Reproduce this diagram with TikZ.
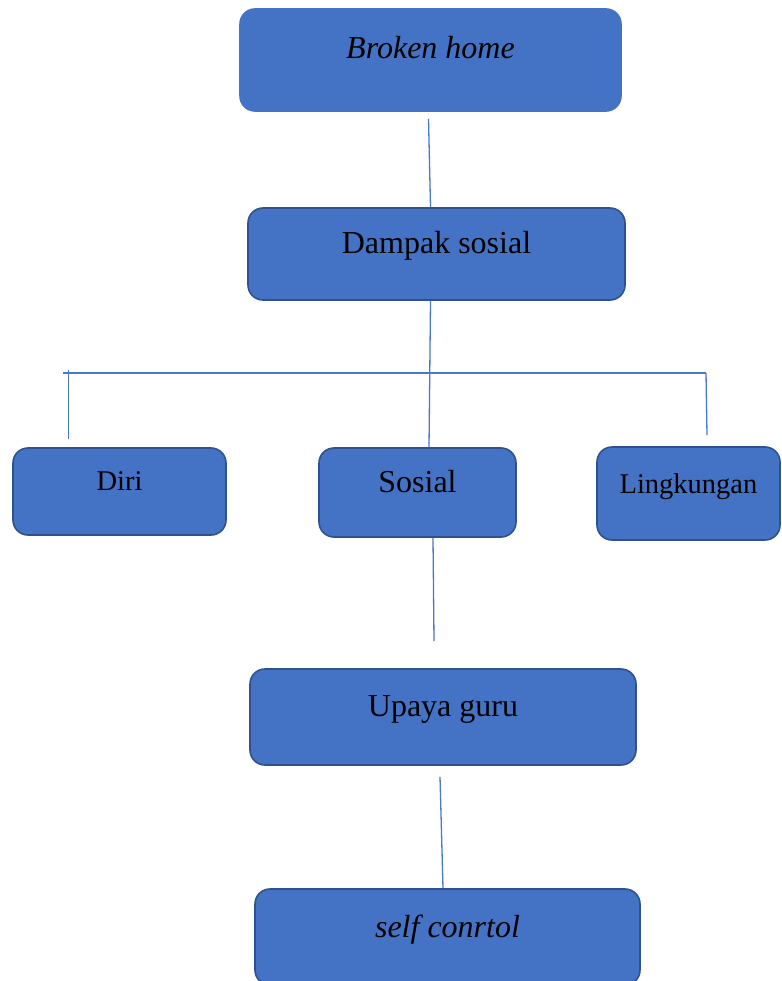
\documentclass[tikz,border=0pt]{standalone}
\usepackage{fontspec}
\setmainfont{Liberation Serif}
\usetikzlibrary{arrows.meta}

\definecolor{boxfill}{HTML}{4472C4}
\definecolor{boxline}{HTML}{2F528F}
\definecolor{linkcol}{HTML}{4A78CC}

\begin{document}
\begin{tikzpicture}[
  x=1pt, y=-1pt,
  block/.style={rectangle, rounded corners=15pt, draw=boxline, line width=1.6pt, fill=boxfill,
                inner xsep=0pt, inner ysep=0pt, align=center,
                font=\fontsize{32}{38}\selectfont},
  small/.style={font=\fontsize{28.5}{34}\selectfont},
  link/.style={draw=linkcol, line width=1.3pt}
]
  \clip (0,0) rectangle (781,981);

  \node[block, draw=boxfill, minimum width=381pt, text height=50pt, text depth=52pt] (broken) at (430.5,60) {\textit{Broken home}};
  \node[block, minimum width=377pt, text height=46pt, text depth=46pt] (dampak) at (436.5,254) {Dampak sosial};
  \node[block, small, minimum width=213pt, text height=42pt, text depth=45pt] (diri) at (119.5,491.5) {Diri};
  \node[block, minimum width=197pt, text height=44pt, text depth=45pt] (sosial) at (417.5,492.5) {Sosial};
  \node[block, small, minimum width=183pt, text height=46pt, text depth=47pt] (lingk) at (688.5,493.5) {Lingkungan};
  \node[block, minimum width=386pt, text height=47pt, text depth=49pt] (upaya) at (443,717) {Upaya guru};
  \node[block, minimum width=385pt, text height=48pt, text depth=48pt] (selfc) at (447.5,937) {\textit{self conrtol}};

  % branch line
  \coordinate (busL) at (63,373);
  \coordinate (busR) at (706,373);

  \draw[link] ([xshift=-2pt,yshift=-7pt]broken.south) -- ([xshift=-6pt]dampak.north);
  \draw[link] ([xshift=-6pt]dampak.south) -- ([xshift=11.5pt]sosial.north);
  \draw[link] (busL) -- (busR);
  \draw[link] ([xshift=5.5pt,yshift=3pt]busL) -- ([xshift=-51pt,yshift=8pt]diri.north);
  \draw[link] (busR) -- ([xshift=18.5pt,yshift=11pt]lingk.north);
  \draw[link] ([xshift=15.5pt]sosial.south) -- ([xshift=-9pt,yshift=27pt]upaya.north);
  \draw[link] ([xshift=-3pt,yshift=-11pt]upaya.south) -- ([xshift=-4.5pt]selfc.north);
\end{tikzpicture}
\end{document}
